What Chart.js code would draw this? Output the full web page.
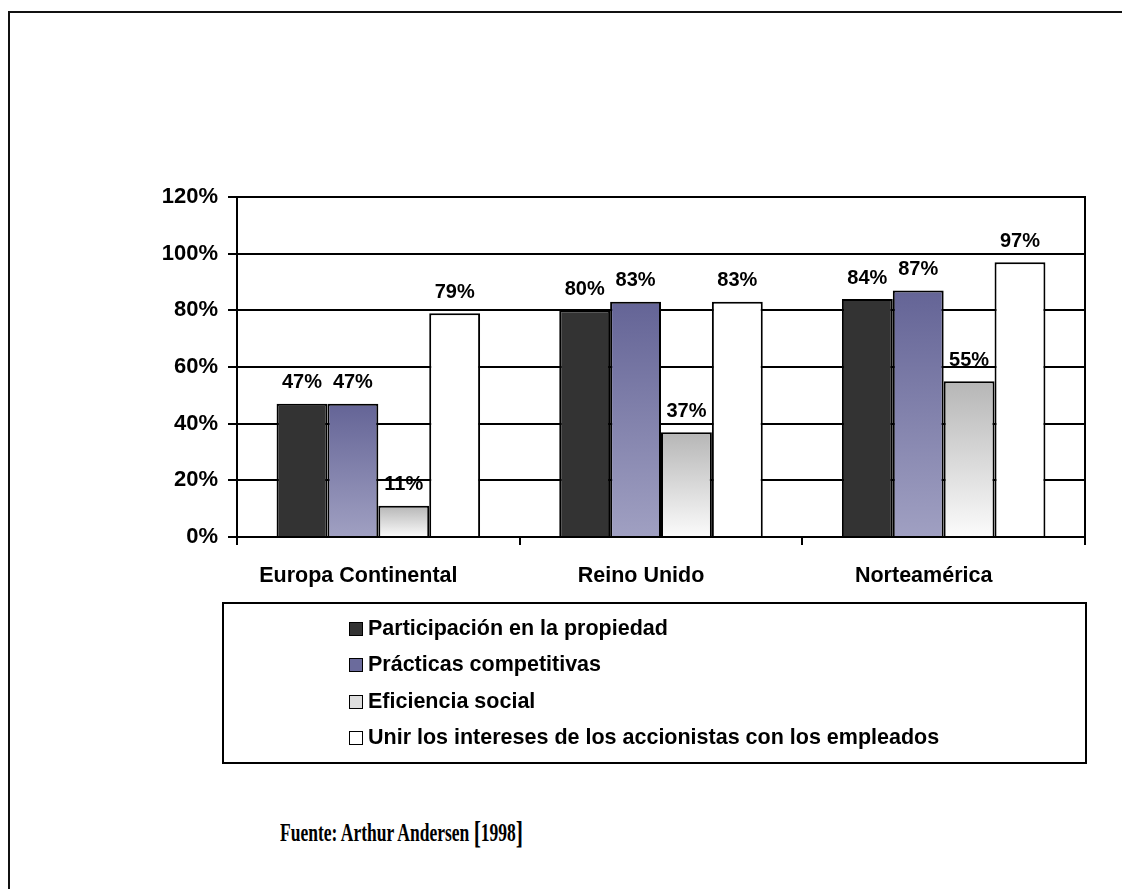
<!DOCTYPE html>
<html>
<head>
<meta charset="utf-8">
<script src="https://cdn.jsdelivr.net/npm/chart.js@4/dist/chart.umd.min.js"></script>
<style>
  html, body { margin: 0; padding: 0; background: #fff; }
  body { width: 1122px; height: 889px; position: relative; overflow: hidden; }
  #frame { position: absolute; left: 8px; top: 11px; width: 1200px; height: 1000px;
           border-left: 2px solid #111; border-top: 2px solid #111; }
  #chart { position: absolute; left: 0; top: 150px; }
  #legend { position: absolute; left: 222px; top: 602px; width: 861px; height: 158px;
            border: 2px solid #000; font: bold 21.5px "Liberation Sans", Arial, sans-serif; }
  #legend .item { position: absolute; left: 125px; height: 24px; line-height: 24px; white-space: nowrap; }
  #legend .box { display: inline-block; width: 12px; height: 12px; border: 1.5px solid #000;
                 margin-right: 5px; vertical-align: -1px; }
  #source { position: absolute; left: 280px; top: 813px; white-space: nowrap;
            font: bold 25px "Liberation Serif", "Times New Roman", serif;
            transform: scaleX(0.7); transform-origin: left center; }
  #source .br { font-size: 31px; position: relative; top: 2px; }
</style>
</head>
<body>
<div id="frame"></div>
<canvas id="chart" width="1122" height="460"></canvas>
<div id="legend"></div>
<div id="source">Fuente: Arthur Andersen <span class="br">[</span>1998<span class="br">]</span></div>
<script>
// regions on the x axis
const categories = ['Europa Continental', 'Reino Unido', 'Norteamérica'];

// one label and one value list per series (percent)
const seriesNames = [
  'Participación en la propiedad',
  'Prácticas competitivas',
  'Eficiencia social',
  'Unir los intereses de los accionistas con los empleados'
];
const participacion = [47, 80, 84];
const practicas = [47, 83, 87];
const eficiencia = [11, 37, 55];
const unirIntereses = [79, 83, 97];

const yTicks = [0, 20, 40, 60, 80, 100, 120];

// fills: solid, or a vertical gradient from the top of each bar to the base
const fills = [
  { top: '#333333', bottom: '#333333', swatch: '#333333' },
  { top: '#646496', bottom: '#a0a0c2', swatch: '#6b6b9c' },
  { top: '#b6b6b6', bottom: '#fbfbfb', swatch: '#dedede' },
  { top: '#ffffff', bottom: '#ffffff', swatch: '#ffffff' }
];

function barFill(fill) {
  return (ctx) => {
    const y = ctx.chart.scales.y;
    if (ctx.type !== 'data' || !y || fill.top === fill.bottom) return fill.top;
    const base = y.getPixelForValue(0);
    const tip = y.getPixelForValue(ctx.raw);
    if (!isFinite(base) || !isFinite(tip) || base === tip) return fill.top;
    const g = ctx.chart.ctx.createLinearGradient(0, tip, 0, base);
    g.addColorStop(0, fill.top);
    g.addColorStop(1, fill.bottom);
    return g;
  };
}

const seriesValues = [participacion, practicas, eficiencia, unirIntereses];

const datasets = seriesValues.map((values, i) => ({
  label: seriesNames[i],
  data: values,
  backgroundColor: barFill(fills[i]),
  borderColor: '#000',
  borderWidth: 2,
  borderSkipped: 'bottom',
  categoryPercentage: 0.72,
  barPercentage: 1.0
}));

const FONT = '"Liberation Sans", Arial, sans-serif';

// percentage written above every bar
const valueLabels = {
  id: 'valueLabels',
  afterDatasetsDraw(chart) {
    const ctx = chart.ctx;
    ctx.save();
    ctx.font = 'bold 20px ' + FONT;
    ctx.fillStyle = '#000';
    ctx.textAlign = 'center';
    ctx.textBaseline = 'middle';
    chart.data.datasets.forEach((ds, i) => {
      chart.getDatasetMeta(i).data.forEach((bar, j) => {
        ctx.fillText(ds.data[j] + '%', bar.x, bar.y - 21);
      });
    });
    ctx.restore();
  }
};

// closes the plot box on the right side
const plotFrame = {
  id: 'plotFrame',
  afterDraw(chart) {
    const { ctx, chartArea } = chart;
    ctx.save();
    ctx.strokeStyle = '#000';
    ctx.lineWidth = 2;
    ctx.beginPath();
    ctx.moveTo(chartArea.right, chartArea.top - 1);
    ctx.lineTo(chartArea.right, chartArea.bottom);
    ctx.stroke();
    ctx.restore();
  }
};

const chart = new Chart(document.getElementById('chart'), {
  type: 'bar',
  data: { labels: categories, datasets: datasets },
  plugins: [valueLabels, plotFrame],
  options: {
    responsive: false,
    animation: false,
    layout: { padding: { top: 47, right: 37, left: 0, bottom: 0 } },
    plugins: {
      legend: { display: false },
      tooltip: { enabled: false }
    },
    scales: {
      x: {
        offset: true,
        afterFit: (scale) => { scale.height = 73; },
        grid: { offset: true, drawOnChartArea: false, color: '#000', lineWidth: 2, tickLength: 8 },
        border: { color: '#000', width: 2 },
        ticks: {
          color: '#000',
          padding: 18,
          labelOffset: -20,
          font: { family: FONT, size: 21.5, weight: 'bold' }
        }
      },
      y: {
        min: 0,
        max: 120,
        afterFit: (scale) => { scale.width = 237; },
        afterBuildTicks: (scale) => { scale.ticks = yTicks.map(v => ({ value: v })); },
        grid: { color: '#000', lineWidth: 2, tickLength: 9 },
        border: { color: '#000', width: 2 },
        ticks: {
          color: '#000',
          padding: 10,
          font: { family: FONT, size: 22, weight: 'bold' },
          callback: (v) => v + '%'
        }
      }
    }
  }
});

// legend list inside the box under the chart
const legendEl = document.getElementById('legend');
const rowTops = [12, 48, 85, 121];
chart.data.datasets.forEach((ds, i) => {
  const item = document.createElement('div');
  item.className = 'item';
  item.style.top = rowTops[i] + 'px';
  const box = document.createElement('span');
  box.className = 'box';
  box.style.background = fills[i].swatch;
  item.appendChild(box);
  item.appendChild(document.createTextNode(ds.label));
  legendEl.appendChild(item);
});
</script>
</body>
</html>
